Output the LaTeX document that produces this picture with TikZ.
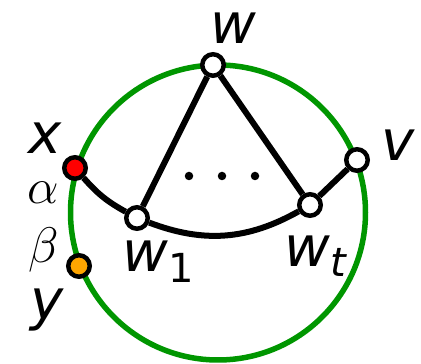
\RequirePackage{fix-cm}
\documentclass[tikz,border=0pt]{standalone}
\usepackage{fontspec}
\newfontfamily\lblfont{DejaVu Sans}[ItalicFont={DejaVu Sans Oblique}]
\usetikzlibrary{calc}
\definecolor{ringgreen}{RGB}{0,150,0}
\definecolor{redpt}{RGB}{255,0,0}
\definecolor{orangept}{RGB}{255,165,0}
\tikzset{
  vtx/.style={circle,draw=black,line width=4.5pt,minimum size=21.5pt,inner sep=0pt,fill=white},
  edge/.style={line width=6pt,draw=black},
  lbl/.style={inner sep=0pt,font=\lblfont\itshape\fontsize{56}{60}\selectfont},
  glbl/.style={inner sep=0pt,font=\fontsize{50}{60}\selectfont},
  dotmark/.style={circle,fill=black,minimum size=8.5pt,inner sep=0pt}
}
\newcommand{\subsz}{\fontsize{40}{40}\selectfont}
\begin{document}
\begin{tikzpicture}[x=1pt,y=1pt]
\useasboundingbox (0,0) rectangle (421,364);
\coordinate (c) at (218,151.5);
\draw[ringgreen,line width=5.5pt] (c) circle[radius=147.5];
\node[vtx] (w) at (213,299) {};
\node[vtx,fill=redpt] (x) at (75,196) {};
\node[vtx,fill=orangept] (y) at (79,98) {};
\node[vtx] (w1) at (137,146) {};
\node[vtx] (wt) at (310,159) {};
\node[vtx] (v) at (357,204) {};
\draw[edge] (x) to[bend right=10] (w1);
\draw[edge] (w1) to[bend right=25] (wt);
\draw[edge] (w1) -- (w);
\draw[edge] (w) -- (wt);
\draw[edge] (wt) -- (v);
\node[dotmark] (d1) at (189,188) {};
\node[dotmark] (d2) at (222,188) {};
\node[dotmark] (d3) at (255,188) {};
\node[lbl] (lw) at (233,336) {w};
\node[lbl] (lx) at (45,226) {x};
\node[lbl] (lv) at (398,219) {v};
\node[lbl] (ly) at (47,54) {y};
\node[glbl] (la) at (43,171) {$\alpha$};
\node[glbl] (lb) at (44,114) {$\beta$};
\node[lbl,anchor=base west] (lw1) at (122,92) {w\raisebox{-11pt}{\upshape\subsz 1}};
\node[lbl,anchor=base west] (lwt) at (284,97) {w\raisebox{-10pt}{\subsz t}};
\end{tikzpicture}
\end{document}
